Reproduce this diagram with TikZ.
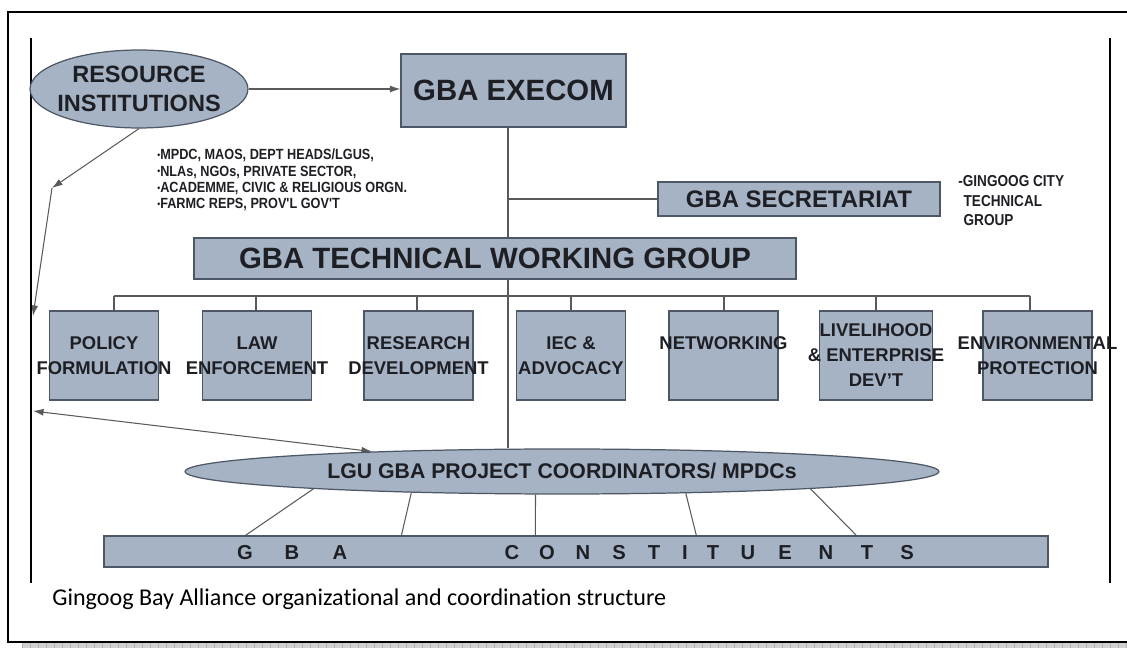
\documentclass[tikz,border=0pt]{standalone}
\usepackage{fontspec}
\setmainfont{Liberation Sans}
\newfontfamily\captionfont[Ligatures={NoCommon,NoContextual}]{Carlito}
\newfontfamily\narrowfont[FakeStretch=0.86]{Liberation Sans}
\usetikzlibrary{shapes.geometric,backgrounds,arrows.meta}

\definecolor{unitfill}{HTML}{A5B3C5}
\definecolor{unitline}{HTML}{4E5766}
\definecolor{linkgray}{HTML}{5A5A5A}
\definecolor{ink}{HTML}{1E1F24}

% a line of text that may stick out of its box
\newcommand{\spill}[1]{\makebox[0pt]{#1}}
\newcommand{\blt}{{\fontsize{5.5}{5}\selectfont\raisebox{0.3ex}{•}}}

\tikzset{
	unit/.style={draw=unitline, fill=unitfill, line width=0.7pt, inner sep=0pt, text=ink, align=center},
	head/.style={unit, font=\fontsize{16.7}{20}\selectfont\bfseries},
	task/.style={unit, minimum width=2.18cm, minimum height=1.78cm, font=\fontsize{10.5}{14.2}\selectfont\bfseries},
	link/.style={draw=linkgray, line width=0.6pt},
	tip/.style={-{Latex[length=6pt,width=4pt]}},
	note/.style={align=left, inner sep=0pt, text=ink, font=\narrowfont\bfseries\fontsize{8.4}{9.3}\selectfont}
}

\begin{document}
\begin{tikzpicture}[x=0.02cm,y=-0.02cm]
	\useasboundingbox (0,0) rectangle (1127,648);

	% page frame and its shadow strip
	\fill[gray!35] (22,643) rectangle (1127,648);
	\foreach \hx in {22,30,...,1127}
		\draw[gray!60, line width=0.3pt] (\hx,643) -- (\hx,648);
	\draw[line width=1.2pt] (1127,12) -- (8,12) -- (8,642) -- (1127,642);
	\draw[line width=0.9pt] (31,38) -- (31,583);
	\draw[line width=0.9pt] (1110,38) -- (1110,583);

	\node[unit, ellipse, minimum width=4.36cm, minimum height=1.56cm, inner xsep=-0.12cm,
		font=\fontsize{13.4}{16.5}\selectfont\bfseries] (resinst) at (139,89) {RESOURCE\\INSTITUTIONS};
	\node[head, minimum width=4.5cm, minimum height=1.46cm] (execom) at (513.5,90.5) {GBA EXECOM};
	\node[unit, minimum width=5.64cm, minimum height=0.68cm,
		font=\fontsize{13.6}{16}\selectfont\bfseries] (secret) at (799,199) {GBA SECRETARIAT};
	\node[head, minimum width=12.04cm, minimum height=0.82cm] (twg) at (495,258.5) {GBA TECHNICAL WORKING GROUP};

	\node[note, anchor=base west] (members) at (157,209)
		{\blt MPDC, MAOS, DEPT HEADS/LGUS,\\\blt NLAs, NGOs, PRIVATE SECTOR,\\\blt ACADEMME, CIVIC \& RELIGIOUS ORGN.\\\blt FARMC REPS, PROV'L GOV'T};
	\node[note, anchor=base west, font=\narrowfont\bfseries\fontsize{9}{11.1}\selectfont] (citygroup) at (958,226)
		{-GINGOOG CITY\\\hspace*{3pt}TECHNICAL\\\hspace*{3pt}GROUP};

	\node[task] (b1) at (104,355.5) {POLICY\\\spill{FORMULATION}};
	\node[task] (b2) at (257,355.5) {LAW\\\spill{ENFORCEMENT}};
	\node[task] (b3) at (418.5,355.5) {RESEARCH\\\spill{DEVELOPMENT}};
	\node[task] (b4) at (571,355.5) {IEC \&\\ADVOCACY};
	\node[task] (b5) at (723.5,355.5) {\spill{NETWORKING}\\\mbox{}};
	\node[task] (b6) at (876,355.5) {LIVELIHOOD\\\spill{\& ENTERPRISE}\\DEV'T};
	\node[task] (b7) at (1037.5,355.5) {\spill{ENVIRONMENTAL}\\\spill{PROTECTION}};

	\node[unit, ellipse, minimum width=15.08cm, minimum height=0.9cm,
		font=\fontsize{12.1}{14}\selectfont\bfseries] (lgu) at (562,471.5) {LGU GBA PROJECT COORDINATORS/ MPDCs};
	\node[unit, minimum width=18.88cm, minimum height=0.62cm] (constit) at (576,551.5) {};
	\foreach \lx/\ch [count=\k] in {245/G,292/B,340/A,512/C,547/O,583/N,619/S,654/T,685/I,713/T,748/U,785/E,826/N,867/T,907/S}
		\node[text=ink, font=\fontsize{11.5}{13}\selectfont\bfseries] (ltr\k) at (\lx,552.5) {\ch};

	\node[anchor=base west, inner sep=0pt, font=\captionfont\fontsize{13.7}{16}\selectfont] (caption) at (52,606)
		{Gingoog Bay Alliance organizational and coordination structure};

	\begin{scope}[on background layer]
		\coordinate (spine) at (508,0);
		\draw[link] (execom.south -| spine) -- (spine |- lgu.north);
		\draw[link] (spine |- secret.west) -- (secret.west);
		\draw[link,tip] (resinst.east) -- (resinst.east -| execom.west);

		\foreach \k/\dx in {1/114,2/256,3/417,4/571,5/724,6/876,7/1030} {
			\coordinate (drop\k) at (\dx,296);
			\draw[link] (drop\k) -- (drop\k |- b\k.north);
		}
		\draw[link] (drop1) -- (drop7);

		\draw[link] (lgu.184) -- ([xshift=2.84cm]constit.north west);
		\draw[link] (lgu.188) -- ([xshift=5.96cm]constit.north west);
		\draw[link] (lgu.221) -- ([xshift=8.64cm]constit.north west);
		\draw[link] (lgu.350) -- ([xshift=11.86cm]constit.north west);
		\draw[link] (lgu.356) -- ([xshift=15.06cm]constit.north west);

		\coordinate (kink) at (52,188);
		\coordinate (edgeA) at (33,316);
		\coordinate (edgeB) at (33,411);
		\draw[link,tip] (resinst.south) -- (kink);
		\draw[link,tip] (kink) -- (edgeA);
		\draw[link,{Latex[length=6pt,width=4pt]}-{Latex[length=6pt,width=4pt]}] (edgeB) -- (lgu.174);
	\end{scope}
\end{tikzpicture}
\end{document}
